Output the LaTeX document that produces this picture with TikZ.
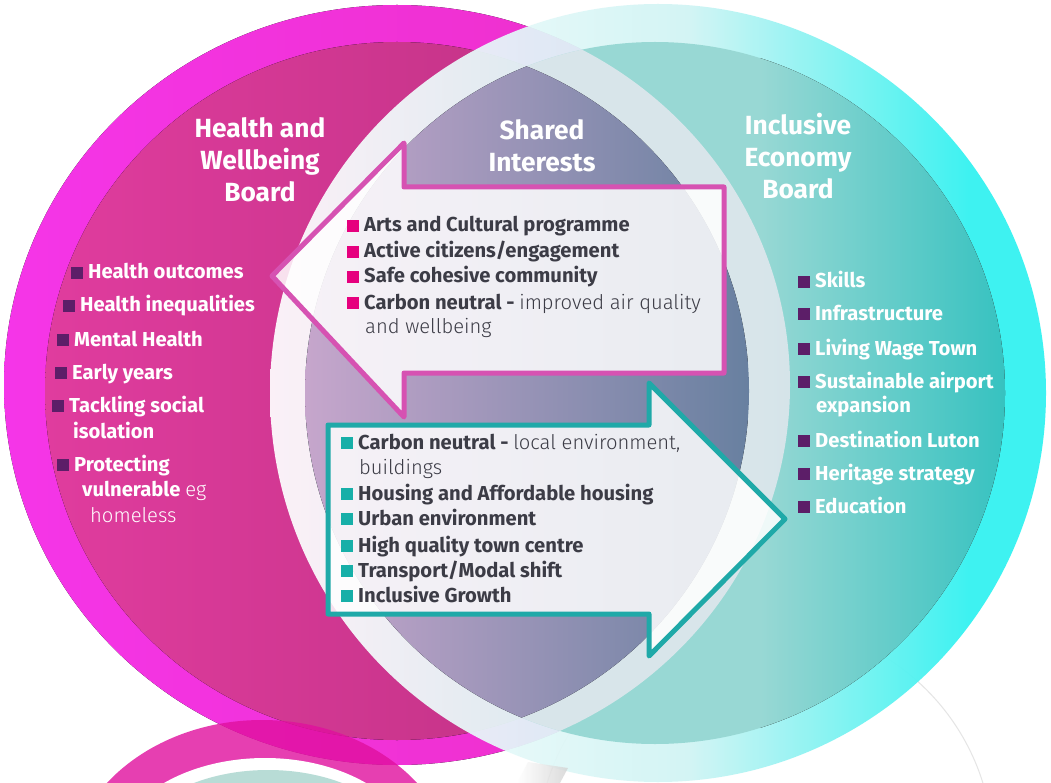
\documentclass[tikz,border=0pt]{standalone}
\usepackage{fontspec}
\setmainfont{Fira Sans}
\newfontfamily\lightf{Fira Sans Light}
\definecolor{pkring}{HTML}{F535E8}
\definecolor{pkring2}{HTML}{EC2EC4}
\definecolor{pkin}{HTML}{E03C9E}
\definecolor{pkin2}{HTML}{B8307E}
\definecolor{tlpale}{HTML}{D0F4F4}
\definecolor{cyanb}{HTML}{30F2F0}
\definecolor{tlin}{HTML}{98D8D4}
\definecolor{tlin2}{HTML}{36C2C0}
\definecolor{lensL}{HTML}{C6A6CC}
\definecolor{lensR}{HTML}{6880A0}
\definecolor{lav}{HTML}{EEEAF2}
\definecolor{arrpink}{HTML}{D652B2}
\definecolor{arrteal}{HTML}{1FA9A8}
\definecolor{bulpurple}{HTML}{5C1E68}
\definecolor{bulpink}{HTML}{E6007E}
\definecolor{bulteal}{HTML}{17AFA8}
\definecolor{txtdark}{HTML}{3C3C46}
\definecolor{smallpink}{HTML}{E0109E}
\definecolor{palegreen}{HTML}{B8DCD6}
\pgfdeclarehorizontalshading{tealring}{100bp}{color(0bp)=(white); color(25bp)=(white); color(52bp)=(tlpale); color(70bp)=(cyanb); color(100bp)=(cyanb)}
\newcommand\bsq[1]{\textcolor{#1}{\rule{12pt}{12pt}}\hspace{5pt}}
\tikzset{
  item/.style={anchor=base west, inner sep=0pt, font=\fontsize{20.2}{23}\selectfont\bfseries, text=white},
  ditem/.style={item, text=txtdark},
  title/.style={align=center, font=\fontsize{26.3}{32}\selectfont\bfseries, text=white, inner sep=0pt},
  pinkarrow/.style={draw=arrpink, line width=5pt, line join=round, fill=white, fill opacity=0.85},
  tealarrow/.style={draw=arrteal, line width=5pt, line join=round, fill=white, fill opacity=0.85}
}
\begin{document}
\begin{tikzpicture}[x=1pt,y=-1pt]
\useasboundingbox (0,0) rectangle (1051,783);
\clip (0,0) rectangle (1051,783);
\fill[white] (0,0) rectangle (1051,783);
% faint ellipse bottom right
\draw[gray!20, line width=1pt] (765,850) ellipse [x radius=228pt, y radius=227pt];
% pink outer
\begin{scope}
\clip (397,385) ellipse [x radius=393pt, y radius=380pt];
\fill[left color=pkring, right color=pkring2] (4,0) rectangle (790,783);
\end{scope}
% pink inner
\begin{scope}
\clip (397,391) ellipse [x radius=352pt, y radius=349pt];
\fill[left color=pkin, right color=pkin2] (45,0) rectangle (749,783);
\end{scope}
% teal outer ring
\shade[shading=tealring, opacity=0.93] (658,393) ellipse [x radius=388pt, y radius=389pt];
% teal inner
\begin{scope}
\clip (655,393) ellipse [x radius=350pt, y radius=351pt];
\fill[tlin] (300,0) rectangle (1010,783);
\fill[left color=tlin, right color=tlin2] (760,0) rectangle (1006,783);
\fill[lav, opacity=0.75] (397,385) ellipse [x radius=393pt, y radius=380pt];
\clip (397,391) ellipse [x radius=352pt, y radius=349pt];
\fill[left color=lensL, right color=lensR] (305,0) rectangle (749,783);
\end{scope}
% shadow at bottom middle
\shade[left color=white, right color=gray!35, opacity=0.8] (517,783) -- (528,762) -- (568,768) -- (560,783) -- cycle;
% small bottom-left circle
\fill[smallpink, opacity=0.8] (262,880) ellipse [x radius=195pt, y radius=160pt];
\fill[white] (265,860) ellipse [x radius=154pt, y radius=102pt];
\fill[palegreen] (268,860) ellipse [x radius=143pt, y radius=90pt];
% arrows
\draw[pinkarrow] (272,276) -- (404,143) -- (404,187) -- (724,187) -- (724,373) -- (404,373) -- (404,417) -- cycle;
\draw[tealarrow] (328,425) -- (649,425) -- (649,383) -- (785,519) -- (649,656) -- (649,614) -- (328,614) -- cycle;
% titles
\node[title] (hwb) at (260,160) {Health and\\Wellbeing\\Board};
\node[title] (shi) at (542,146) {Shared\\Interests};
\node[title] (ieb) at (798,156) {Inclusive\\Economy\\Board};
% left list
\node[item] (l1) at (71,279) {\bsq{bulpurple}Health outcomes};
\node[item] (l2) at (63,312) {\bsq{bulpurple}Health inequalities};
\node[item] (l3) at (57,346) {\bsq{bulpurple}Mental Health};
\node[item] (l4) at (55,379) {\bsq{bulpurple}Early years};
\node[item] (l5) at (52,412) {\bsq{bulpurple}Tackling social};
\node[item] (l5b) at (73,438) {isolation};
\node[item] (l6) at (57,471) {\bsq{bulpurple}Protecting};
\node[item] (l6b) at (82,496) {vulnerable {\lightf\mdseries eg}};
\node[item] (l6c) at (90,522) {\lightf\mdseries homeless};
% right list
\node[item] (r1) at (798,288) {\bsq{bulpurple}Skills};
\node[item] (r2) at (798,320) {\bsq{bulpurple}Infrastructure};
\node[item] (r3) at (798,355) {\bsq{bulpurple}Living Wage Town};
\node[item] (r4) at (798,388) {\bsq{bulpurple}Sustainable airport};
\node[item] (r4b) at (816,412) {expansion};
\node[item] (r5) at (798,447) {\bsq{bulpurple}Destination Luton};
\node[item] (r6) at (798,480) {\bsq{bulpurple}Heritage strategy};
\node[item] (r7) at (798,513) {\bsq{bulpurple}Education};
% shared pink list
\node[ditem] (s1) at (347,232) {\bsq{bulpink}Arts and Cultural programme};
\node[ditem] (s2) at (347,258) {\bsq{bulpink}Active citizens/engagement};
\node[ditem] (s3) at (347,283) {\bsq{bulpink}Safe cohesive community};
\node[ditem] (s4) at (347,309) {\bsq{bulpink}Carbon neutral - {\lightf\mdseries improved air quality}};
\node[ditem] (s4b) at (365,334) {\lightf\mdseries and wellbeing};
% shared teal list
\node[ditem] (t1) at (341,449) {\bsq{bulteal}Carbon neutral - {\lightf\mdseries local environment,}};
\node[ditem] (t1b) at (359,474) {\lightf\mdseries buildings};
\node[ditem] (t2) at (341,500) {\bsq{bulteal}Housing and Affordable housing};
\node[ditem] (t3) at (341,525) {\bsq{bulteal}Urban environment};
\node[ditem] (t4) at (341,552) {\bsq{bulteal}High quality town centre};
\node[ditem] (t5) at (341,577) {\bsq{bulteal}Transport/Modal shift};
\node[ditem] (t6) at (341,602) {\bsq{bulteal}Inclusive Growth};
\end{tikzpicture}
\end{document}
